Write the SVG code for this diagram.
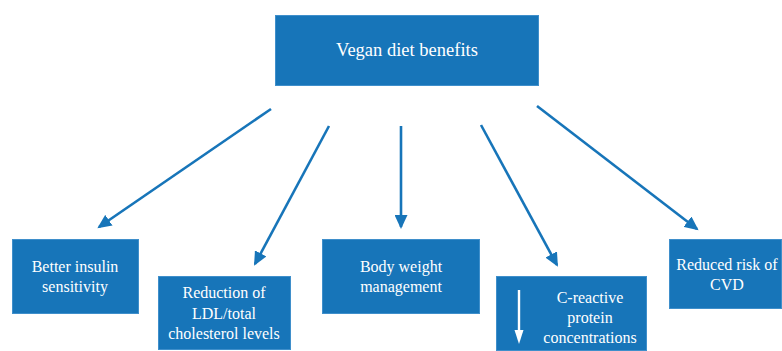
<svg xmlns="http://www.w3.org/2000/svg" width="782" height="351" viewBox="0 0 782 351">
<defs>
<style>
.box{fill:#1775b9;stroke:#3f8fcb;stroke-width:1}
.t{font-family:"Liberation Serif","Times New Roman",serif;font-size:16px;fill:#ffffff;text-anchor:middle}
.title{font-size:18.5px}
.conn{stroke:#1775b9;stroke-width:2.6;fill:none;marker-end:url(#ah)}
</style>
<marker id="ah" markerUnits="userSpaceOnUse" markerWidth="15" markerHeight="13" refX="12" refY="6.5" orient="auto">
<path d="M0,0 L14,6.5 L0,13 z" fill="#1775b9"/>
</marker>
</defs>
<rect width="782" height="351" fill="#ffffff"/>
<g id="connectors">
<path class="conn" d="M271,109 L99,227"/>
<path class="conn" d="M329,126 L255,264"/>
<path class="conn" d="M401,126 L401,227"/>
<path class="conn" d="M481,125 L557,265"/>
<path class="conn" d="M537,106 L697,229"/>
</g>
<g id="n-title">
<rect class="box" x="275.5" y="15.5" width="263" height="70"/>
<text class="t title" x="407" y="56">Vegan diet benefits</text>
</g>
<g id="n-insulin">
<rect class="box" x="12.5" y="239.5" width="126" height="74"/>
<text class="t" x="75" y="272">Better insulin</text>
<text class="t" x="75" y="292">sensitivity</text>
</g>
<g id="n-ldl">
<rect class="box" x="158.5" y="276.5" width="132" height="73"/>
<text class="t" x="224" y="298">Reduction of</text>
<text class="t" x="224" y="318.5">LDL/total</text>
<text class="t" x="224" y="339">cholesterol levels</text>
</g>
<g id="n-weight">
<rect class="box" x="322.5" y="239.5" width="157" height="74"/>
<text class="t" x="401" y="272">Body weight</text>
<text class="t" x="401" y="292">management</text>
</g>
<g id="n-crp">
<rect class="box" x="496.5" y="276.5" width="150" height="74"/>
<line x1="519" y1="290" x2="519" y2="332" stroke="#ffffff" stroke-width="2.4"/>
<polygon points="514.5,330 523.5,330 519,344" fill="#ffffff"/>
<text class="t" x="590" y="303">C-reactive</text>
<text class="t" x="590" y="323">protein</text>
<text class="t" x="590" y="342.5">concentrations</text>
</g>
<g id="n-cvd">
<rect class="box" x="669.5" y="239.5" width="112" height="69"/>
<text class="t" x="727" y="270">Reduced risk of</text>
<text class="t" x="727" y="290">CVD</text>
</g>
</svg>
